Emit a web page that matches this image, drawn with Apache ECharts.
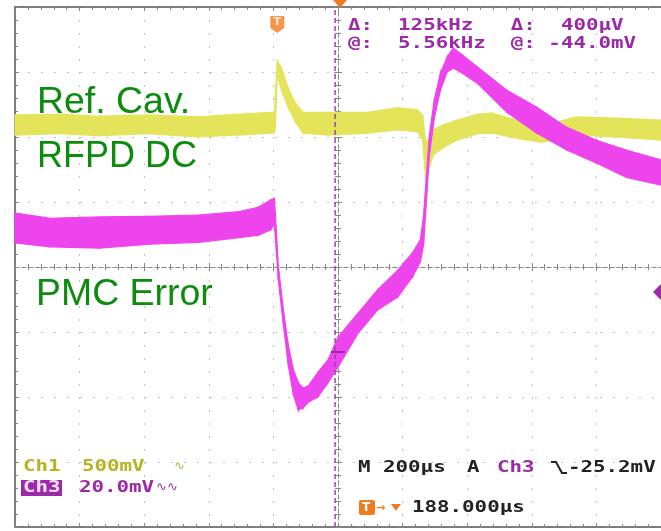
<!DOCTYPE html>
<html>
<head>
<meta charset="utf-8">
<title>Ref. Cav. RFPD DC / PMC Error</title>
<script src="https://cdn.jsdelivr.net/npm/echarts@6/dist/echarts.min.js"></script>
<style>html,body{margin:0;padding:0;background:#fff}#chart{width:661px;height:531px}</style>
</head>
<body>
<div id="chart"></div>
<script>
// time in µs from screen centre (200 µs/div), level in divisions from the centre line
// each trace is kept as the upper and lower edge of its noise band
const ch1Time  = [-1000, -862, -738, -585, -431, -308, -215, -197, -194, -188, -175, -154, -132, -108, -31, 92, 185, 246, 262, 271, 280, 295, 323, 369, 431, 477, 554, 631, 677, 738, 862, 1000];
const ch1Upper = [2.34, 2.35, 2.32, 2.34, 2.31, 2.35, 2.38, 2.37, 2.65, 3.18, 3.06, 2.75, 2.52, 2.38, 2.38, 2.38, 2.45, 2.42, 2.34, 1.95, 1.95, 2.11, 2.18, 2.26, 2.35, 2.37, 2.26, 2.20, 2.23, 2.31, 2.29, 2.26];
const ch1Lower = [2.03, 2.05, 2.02, 2.05, 2.00, 2.03, 2.06, 2.06, 2.14, 2.95, 2.72, 2.45, 2.23, 2.06, 2.03, 2.06, 2.11, 2.08, 1.95, 1.37, 1.49, 1.72, 1.83, 1.95, 2.05, 2.06, 1.98, 1.92, 1.95, 2.03, 2.00, 1.95];

const ch3Time  = [-1000, -892, -738, -585, -431, -308, -246, -209, -197, -191, -185, -169, -154, -138, -123, -108, -92, -62, -31, 0, 62, 123, 185, 231, 255, 265, 274, 283, 298, 317, 338, 357, 385, 431, 523, 615, 708, 800, 892, 1000];
const ch3Upper = [0.83, 0.75, 0.77, 0.78, 0.80, 0.85, 0.92, 1.03, 1.06, 0.57, 0.03, -0.66, -1.20, -1.58, -1.78, -1.86, -1.83, -1.62, -1.43, -1.08, -0.71, -0.35, -0.05, 0.22, 0.42, 0.80, 1.42, 2.03, 2.57, 2.98, 3.23, 3.37, 3.26, 3.08, 2.72, 2.46, 2.15, 1.95, 1.80, 1.65];
const ch3Lower = [0.37, 0.31, 0.29, 0.35, 0.38, 0.45, 0.49, 0.57, 0.65, 0.26, -0.20, -0.89, -1.51, -1.97, -2.20, -2.17, -2.08, -2.00, -1.78, -1.54, -1.02, -0.66, -0.46, -0.15, 0.08, 0.34, 1.03, 1.72, 2.29, 2.72, 3.00, 3.06, 2.98, 2.83, 2.38, 2.06, 1.80, 1.60, 1.38, 1.26];

const triggerTime = -188;
const cursorTime = -9;

const purple = '#9c2aa8';
const orange = '#f07c22';
const green = '#0c8c0c';
const mono = 'bold 16px "DejaVu Sans Mono"';
const big = '36px "Liberation Sans"';

function band(name, time, lower, upper, color) {
  return {
    name: name,
    type: 'custom',
    silent: true,
    data: time.map((t, i) => [t, lower[i], upper[i]]),
    encode: { x: 0, y: [1, 2] },
    renderItem: function (params, api) {
      const i = params.dataIndex;
      if (i >= time.length - 1) return null;
      const pts = [
        api.coord([time[i], lower[i]]),
        api.coord([time[i + 1], lower[i + 1]]),
        api.coord([time[i + 1], upper[i + 1]]),
        api.coord([time[i], upper[i]])
      ];
      return { type: 'polygon', shape: { points: pts }, style: { fill: color, stroke: color, lineWidth: 1.2 } };
    }
  };
}

function label(x, y, text, fill, font, sx) {
  return { type: 'text', x: x, y: y, scaleX: sx || 1, z: 100,
    style: { text: text, fill: fill, font: font || mono, verticalAlign: 'middle' } };
}

const border = { onZero: false, lineStyle: { color: '#555', width: 1.5 } };
const centre = { onZero: true, onZeroAxisIndex: 0, lineStyle: { color: '#8a8a8a', type: [4, 3] } };
const dots = { show: true, lineStyle: { color: '#c4c4c4', type: [2, 11] } };
const hidden = { show: false };

function xAxis(position, line, inside, split) {
  return { type: 'value', min: -1000, max: 1000, interval: 200, position: position,
    axisLine: line, axisLabel: hidden, splitLine: split || hidden,
    axisTick: { inside: inside, length: 4, lineStyle: { color: '#888' } },
    minorTick: { show: true, splitNumber: 5, length: 3, lineStyle: { color: '#888' } } };
}
function yAxis(line, inside, split) {
  return { type: 'value', min: -4, max: 4, interval: 1, position: 'left',
    axisLine: line, axisLabel: hidden, splitLine: split || hidden,
    axisTick: { inside: inside, length: 4, lineStyle: { color: '#888' } },
    minorTick: { show: true, splitNumber: 5, length: 3, lineStyle: { color: '#888' } } };
}

const chart = echarts.init(document.getElementById('chart'));
chart.setOption({
  animation: false,
  backgroundColor: '#fff',
  grid: { left: 15, top: 7, width: 650, height: 520 },
  xAxis: [
    xAxis('bottom', border, true, dots),
    xAxis('top', border, true),
    xAxis('bottom', centre, true),
    xAxis('bottom', centre, false)
  ],
  yAxis: [
    yAxis(border, true, dots),
    yAxis(centre, true),
    yAxis(centre, false)
  ],
  series: [
    band('Ch1', ch1Time, ch1Lower, ch1Upper, '#e4e45a'),
    band('Ch3', ch3Time, ch3Lower, ch3Upper, '#ee44ee'),
    {
      name: 'cursor', type: 'line', symbol: 'none', silent: true,
      data: [[cursorTime, -4], [cursorTime, 4]],
      lineStyle: { color: '#a040b0', width: 1.5, type: [5, 3] }
    },
    {
      name: 'trigger', type: 'scatter', silent: true,
      data: [[triggerTime, 3.73]],
      symbol: 'path://M0,0 L14,0 L14,12 L7,17 L0,12 Z', symbolSize: [14, 17],
      itemStyle: { color: orange },
      label: { show: true, position: 'inside', offset: [0, -2], formatter: 'T',
        color: '#fff', fontSize: 11, fontWeight: 'bold', fontFamily: 'DejaVu Sans' }
    }
  ],
  graphic: [
    { type: 'polygon', z: 100, shape: { points: [[333, 0], [347, 0], [340, 8]] }, style: { fill: orange } },
    { type: 'polygon', z: 100, shape: { points: [[653, 292], [661, 284], [669, 292], [661, 300]] }, style: { fill: purple } },
    { type: 'line', z: 100, shape: { x1: 331, y1: 352, x2: 345, y2: 352 }, style: { stroke: purple, lineWidth: 2 } },

    label(37, 103, 'Ref. Cav.', green, big, 1.04),
    label(37, 157, 'RFPD DC', green, big, 1.0),
    label(36, 295, 'PMC Error', green, big, 1.04),

    label(348, 26, 'Δ:  125kHz   Δ:  400µV', purple, null, 1.3),
    label(348, 44, '@:  5.56kHz  @: -44.0mV', purple, null, 1.3),

    label(23, 467, 'Ch1', '#b5b524', null, 1.3),
    label(82, 467, '500mV', '#b5b524', null, 1.3),
    label(174, 467, '∿', '#b5b524', '13px "DejaVu Sans"'),
    { type: 'rect', z: 99, shape: { x: 21, y: 480, width: 41, height: 16 }, style: { fill: purple } },
    label(23, 488, 'Ch3', '#f6e2f6', null, 1.3),
    label(79, 488, '20.0mV', purple, null, 1.3),
    label(156, 488, '∿∿', purple, '13px "DejaVu Sans"'),

    label(358, 467.5, 'M 200µs', '#222', null, 1.3),
    label(467, 467.5, 'A', '#222', null, 1.3),
    label(497, 467.5, 'Ch3', purple, null, 1.3),
    { type: 'polyline', z: 100, shape: { points: [[551, 462], [556, 462], [562, 473], [567, 473]] }, style: { stroke: '#222', lineWidth: 2, fill: null } },
    label(568, 467.5, '-25.2mV', '#222', null, 1.3),

    { type: 'rect', z: 99, shape: { x: 359, y: 500, width: 16, height: 15, r: 2 }, style: { fill: orange } },
    label(362, 508, 'T', '#fff', 'bold 12px "DejaVu Sans"'),
    label(376, 508, '→', orange, 'bold 11px "DejaVu Sans"'),
    { type: 'polygon', z: 100, shape: { points: [[391, 504], [401, 504], [396, 511]] }, style: { fill: orange } },
    label(412, 508, '188.000µs', '#222', null, 1.3)
  ]
});
</script>
</body>
</html>
